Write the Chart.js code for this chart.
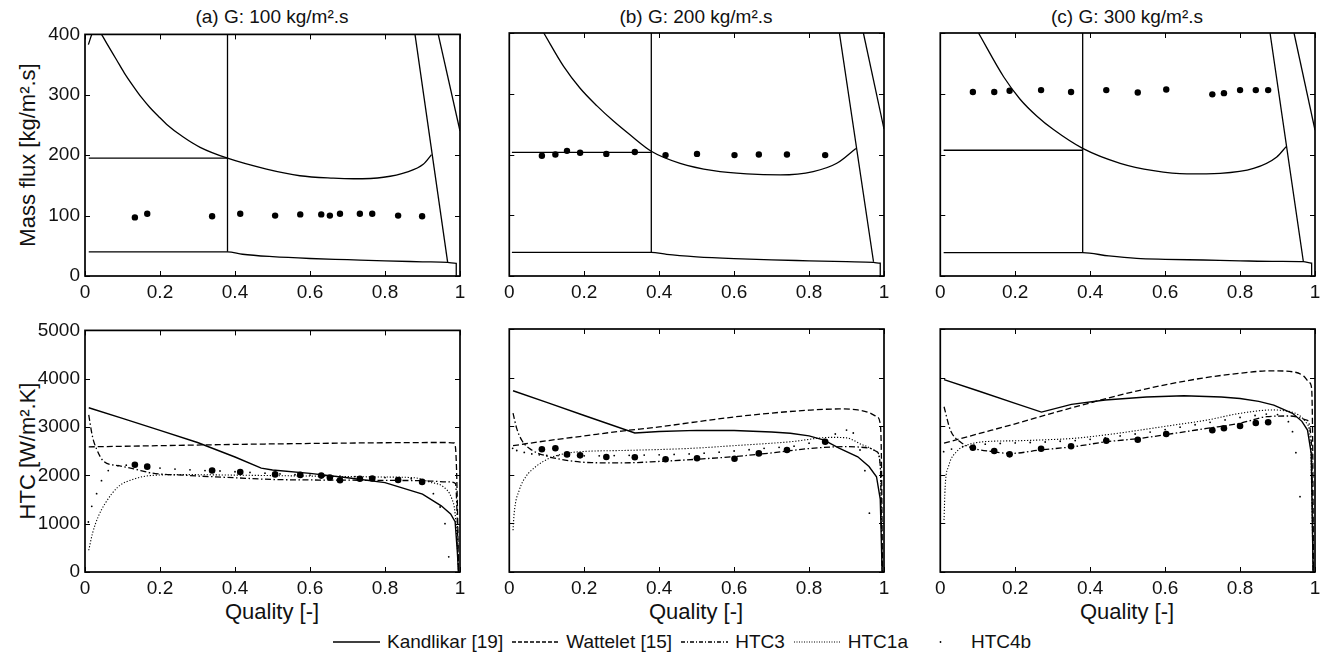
<!DOCTYPE html>
<html>
<head>
<meta charset="utf-8">
<script src="https://cdn.jsdelivr.net/npm/chart.js@4.4.0/dist/chart.umd.min.js"></script>
<style>
  body { margin: 0; background: #fff; width: 1326px; height: 661px; position: relative; overflow: hidden;
         font-family: 'Liberation Sans', Arial, Helvetica, sans-serif; color: #111; }
  .panel { position: absolute; }
  .ttl  { position: absolute; font-size: 19px; line-height: 22px; white-space: nowrap; transform: translate(-50%, -50%); }
  .xlab { position: absolute; font-size: 22px; line-height: 26px; white-space: nowrap; transform: translate(-50%, -50%); }
  .ylab { position: absolute; font-size: 22px; line-height: 26px; white-space: nowrap; transform: translate(-50%, -50%) rotate(-90deg); }
  #legend { position: absolute; left: 333px; top: 630px; display: flex; align-items: center; font-size: 19px; line-height: 24px; white-space: nowrap; }
  .item { display: flex; align-items: center; margin-right: 9px; }
  .item svg { width: 47px; height: 10px; margin-right: 7px; }
</style>
</head>
<body>

<div class="ttl" style="left:272px;top:17px">(a) G: 100 kg/m².s</div>
<div class="ttl" style="left:696px;top:17px">(b) G: 200 kg/m².s</div>
<div class="ttl" style="left:1127px;top:17px">(c) G: 300 kg/m².s</div>

<div class="ylab" style="left:28px;top:155px">Mass flux [kg/m².s]</div>
<div class="ylab" style="left:28px;top:451px">HTC [W/m².K]</div>

<div class="xlab" style="left:272px;top:612px">Quality [-]</div>
<div class="xlab" style="left:696px;top:612px">Quality [-]</div>
<div class="xlab" style="left:1127px;top:612px">Quality [-]</div>

<div id="legend">
  <div class="item"><svg viewBox="0 0 47 10"><line x1="0" y1="5" x2="47" y2="5" stroke="#000" stroke-width="1.4"/></svg>Kandlikar [19]</div>
  <div class="item"><svg viewBox="0 0 47 10"><line x1="0" y1="5" x2="47" y2="5" stroke="#000" stroke-width="1.3" stroke-dasharray="4 2"/></svg>Wattelet [15]</div>
  <div class="item"><svg viewBox="0 0 47 10"><line x1="0" y1="5" x2="47" y2="5" stroke="#000" stroke-width="1.3" stroke-dasharray="4 2 1 2"/></svg>HTC3</div>
  <div class="item"><svg viewBox="0 0 47 10"><line x1="0" y1="5" x2="47" y2="5" stroke="#000" stroke-width="1.1" stroke-dasharray="1 1.5"/></svg>HTC1a</div>
  <div class="item"><svg viewBox="0 0 47 10"><circle cx="23.5" cy="5" r="0.9" fill="#000"/></svg>HTC4b</div>
</div>

<canvas id="mapA" class="panel"></canvas>
<canvas id="mapB" class="panel"></canvas>
<canvas id="mapC" class="panel"></canvas>
<canvas id="htcA" class="panel"></canvas>
<canvas id="htcB" class="panel"></canvas>
<canvas id="htcC" class="panel"></canvas>

<script>
// ── Ticks ─────────────────────────────────────────────────────────────────────
const qualityTicks  = [0, 0.2, 0.4, 0.6, 0.8, 1];
const qualityLabels = ['0', '0.2', '0.4', '0.6', '0.8', '1'];
const fluxTicks     = [0, 100, 200, 300, 400];
const fluxLabels    = ['0', '100', '200', '300', '400'];
const htcTicks      = [0, 1000, 2000, 3000, 4000, 5000];
const htcLabels     = ['0', '1000', '2000', '3000', '4000', '5000'];

// ── Experimental points ───────────────────────────────────────────────────────
const expXA   = [0.133, 0.166, 0.339, 0.414, 0.507, 0.574, 0.630, 0.653, 0.680, 0.733, 0.766, 0.835, 0.899];
const expGA   = [97, 103, 99, 103, 100, 102, 102, 100, 103, 103, 103, 100, 99];
const expHtcA = [2220, 2180, 2100, 2070, 2020, 2010, 1995, 1955, 1900, 1930, 1935, 1905, 1865];

const expXB   = [0.087, 0.123, 0.154, 0.189, 0.259, 0.335, 0.417, 0.501, 0.601, 0.666, 0.741, 0.843];
const expGB   = [198, 200, 206, 203, 201, 204, 199, 201, 199, 200, 200, 199];
const expHtcB = [2525, 2545, 2420, 2400, 2365, 2360, 2320, 2340, 2330, 2440, 2510, 2680];

const expXC   = [0.087, 0.144, 0.185, 0.269, 0.349, 0.443, 0.527, 0.603, 0.726, 0.757, 0.800, 0.842, 0.875];
const expGC   = [303, 303, 305, 306, 303, 306, 302, 307, 299, 301, 306, 306, 306];
const expHtcC = [2558, 2490, 2421, 2537, 2586, 2702, 2722, 2840, 2916, 2957, 3004, 3066, 3080];

// ── Flow pattern map lines [quality, mass flux] ──────────────────────────────
const wavyA   = [[0.009,383],[0.018,400],[0.03,412],[0.044,400],[0.06,383],[0.084,358],[0.105,336],[0.129,314],[0.15,296],[0.173,279],[0.195,265],[0.218,251],[0.262,230],[0.307,213],[0.38,195],[0.484,177],[0.573,166],[0.662,162],[0.716,161],[0.796,163.5],[0.858,172],[0.902,185],[0.924,201]];
const dryA    = [[0.88,400],[0.967,23]];
const mistA   = [[0.942,400],[1.0,240]];
const stratA  = [[0.01,40],[0.38,40],[0.42,36],[0.5,32],[0.6,29],[0.7,27],[0.8,25],[0.9,23.5],[0.967,22.5],[0.99,21],[0.99,0]];
const slugA   = [[0.01,195],[0.38,195]];
const vertA   = [[0.38,40],[0.38,400]];

const wavyB   = [[0.092,400],[0.145,345],[0.189,309],[0.234,280],[0.278,255],[0.323,232],[0.38,205],[0.456,185.5],[0.545,173.4],[0.634,168],[0.723,166.3],[0.811,171.8],[0.874,185.5],[0.925,210]];
const dryB    = [[0.881,400],[0.972,23.5]];
const mistB   = [[0.945,400],[1.0,242]];
const stratB  = [[0.007,39],[0.379,39],[0.42,35.5],[0.5,31.5],[0.6,28.5],[0.7,26.5],[0.8,25],[0.9,23.5],[0.972,22.5],[0.99,21],[0.99,0]];
const slugB   = [[0.007,203.6],[0.379,203.6]];
const vertB   = [[0.379,39],[0.379,400]];

const wavyC   = [[0.102,400],[0.169,328],[0.213,291],[0.258,263],[0.302,241],[0.38,210],[0.48,185.5],[0.569,173.4],[0.658,168],[0.747,169],[0.836,177],[0.898,196],[0.923,213]];
const dryC    = [[0.88,400],[0.969,23.5]];
const mistC   = [[0.944,400],[1.0,240]];
const stratC  = [[0.009,38.4],[0.38,38.4],[0.45,33],[0.524,29],[0.6,27.5],[0.702,26.3],[0.8,25],[0.9,24],[0.969,23.5],[0.991,21],[0.991,0]];
const slugC   = [[0.009,207],[0.38,207]];
const vertC   = [[0.38,38.4],[0.38,400]];

// ── HTC model curves [quality, W/m².K] ───────────────────────────────────────
const kandA  = [[0.01,3400],[0.1,3180],[0.2,2930],[0.3,2680],[0.4,2380],[0.47,2150],[0.5,2110],[0.6,2040],[0.7,1950],[0.8,1850],[0.9,1610],[0.95,1370],[0.975,1200],[0.987,1040],[0.993,400],[0.996,0]];
const wattA  = [[0.01,2590],[0.2,2615],[0.4,2640],[0.6,2660],[0.8,2675],[0.95,2680],[0.985,2670],[0.99,2300],[0.994,1000],[0.996,0]];
const htc3A  = [[0.01,3250],[0.02,2800],[0.03,2560],[0.05,2290],[0.09,2200],[0.13,2135],[0.18,2045],[0.27,2000],[0.4,1950],[0.5,1915],[0.6,1905],[0.7,1900],[0.8,1895],[0.9,1890],[0.97,1865],[0.988,1830],[0.993,1000],[0.996,0]];
const htc1aA = [[0.01,450],[0.02,800],[0.035,1140],[0.053,1410],[0.088,1760],[0.133,1930],[0.18,2000],[0.27,2015],[0.4,2005],[0.5,1995],[0.6,1985],[0.7,1975],[0.8,1965],[0.88,1950],[0.92,1860],[0.956,1760],[0.978,1520],[0.987,1210],[0.993,500],[0.996,0]];
const htc4bA = [[0.009,1035],[0.018,1360],[0.031,1620],[0.044,1890],[0.062,2100],[0.088,2200],[0.11,2210],[0.13,2200],[0.16,2175],[0.2,2150],[0.24,2130],[0.28,2115],[0.32,2100],[0.36,2090],[0.4,2075],[0.44,2060],[0.48,2045],[0.52,2030],[0.56,2015],[0.6,2005],[0.64,1995],[0.68,1985],[0.72,1975],[0.76,1965],[0.8,1955],[0.84,1945],[0.87,1930],[0.9,1830],[0.929,1620],[0.947,1345],[0.96,1000],[0.97,315]];

const kandB  = [[0.01,3730],[0.1,3490],[0.2,3220],[0.335,2860],[0.4,2890],[0.5,2915],[0.6,2910],[0.7,2880],[0.75,2855],[0.8,2800],[0.84,2715],[0.88,2550],[0.93,2370],[0.96,2170],[0.98,1960],[0.99,1500],[0.995,0]];
const wattB  = [[0.01,2600],[0.1,2700],[0.2,2800],[0.3,2900],[0.4,2985],[0.5,3090],[0.6,3190],[0.7,3270],[0.8,3330],[0.88,3355],[0.93,3335],[0.96,3280],[0.98,3200],[0.99,3050],[0.993,2400],[0.996,0]];
const htc3B  = [[0.01,3270],[0.02,2950],[0.035,2690],[0.06,2510],[0.1,2385],[0.16,2290],[0.22,2250],[0.3,2245],[0.4,2275],[0.5,2320],[0.6,2375],[0.7,2450],[0.8,2540],[0.9,2580],[0.96,2550],[0.98,2480],[0.99,2200],[0.995,0]];
const htc1aB = [[0.01,860],[0.013,1210],[0.027,1690],[0.044,1960],[0.071,2170],[0.107,2340],[0.15,2440],[0.2,2480],[0.3,2500],[0.4,2520],[0.5,2550],[0.6,2600],[0.7,2650],[0.75,2680],[0.86,2770],[0.9,2760],[0.945,2610],[0.98,2480],[0.99,2200],[0.995,0]];
const htc4bB = [[0.009,2545],[0.02,2500],[0.04,2460],[0.06,2430],[0.08,2410],[0.1,2400],[0.13,2395],[0.16,2390],[0.2,2390],[0.24,2390],[0.28,2395],[0.32,2400],[0.36,2405],[0.4,2410],[0.44,2420],[0.48,2430],[0.52,2445],[0.56,2465],[0.6,2490],[0.64,2515],[0.68,2545],[0.72,2565],[0.76,2590],[0.8,2650],[0.84,2730],[0.87,2840],[0.9,2920],[0.918,2860],[0.936,2510],[0.949,2085],[0.961,1210]];

const kandC  = [[0.01,3960],[0.1,3730],[0.2,3470],[0.27,3290],[0.35,3450],[0.44,3540],[0.55,3600],[0.65,3625],[0.75,3600],[0.8,3570],[0.85,3510],[0.89,3435],[0.94,3265],[0.965,3100],[0.98,2920],[0.99,2440],[0.995,0]];
const wattC  = [[0.01,2650],[0.1,2840],[0.2,3050],[0.3,3270],[0.4,3480],[0.5,3680],[0.6,3850],[0.7,3990],[0.8,4090],[0.88,4140],[0.94,4120],[0.97,4030],[0.985,3900],[0.991,3780],[0.994,2500],[0.996,0]];
const htc3C  = [[0.01,3400],[0.027,2920],[0.053,2680],[0.089,2545],[0.142,2475],[0.187,2440],[0.267,2510],[0.356,2580],[0.444,2680],[0.533,2750],[0.622,2850],[0.711,2955],[0.8,3060],[0.871,3195],[0.933,3210],[0.978,3125],[0.991,2580],[0.995,0]];
const htc1aC = [[0.01,1070],[0.013,1750],[0.022,2170],[0.044,2480],[0.071,2610],[0.116,2680],[0.2,2700],[0.28,2720],[0.356,2750],[0.45,2830],[0.533,2920],[0.62,3020],[0.711,3125],[0.8,3265],[0.889,3335],[0.933,3300],[0.978,3060],[0.988,2580],[0.995,0]];
const htc4bC = [[0.009,2476],[0.03,2530],[0.06,2580],[0.09,2610],[0.12,2630],[0.16,2645],[0.2,2655],[0.24,2665],[0.28,2675],[0.32,2690],[0.36,2705],[0.4,2730],[0.44,2760],[0.48,2800],[0.52,2840],[0.56,2880],[0.6,2930],[0.64,2980],[0.68,3030],[0.72,3080],[0.76,3130],[0.8,3180],[0.84,3220],[0.87,3250],[0.9,3240],[0.929,3093],[0.94,2887],[0.949,2455],[0.96,1550]];

// ── Helpers ───────────────────────────────────────────────────────────────────
Chart.defaults.font.family = "'Liberation Sans', Arial, Helvetica, sans-serif";
Chart.defaults.font.size = 19;
Chart.defaults.color = '#111';

const pts = arr => arr.map(([x, y]) => ({ x, y }));
const zip = (xs, ys) => xs.map((x, i) => ({ x, y: ys[i] }));

const line = (arr, dash = [], smooth = false, width = 1.3) => ({
  data: pts(arr), showLine: true, borderColor: '#000', borderWidth: width,
  borderDash: dash, pointRadius: 0,
  cubicInterpolationMode: smooth ? 'monotone' : 'default', tension: 0,
});
const dots = (data, r) => ({
  data, showLine: false, pointRadius: r, pointBackgroundColor: '#000',
  pointBorderColor: '#000', pointBorderWidth: 0,
});

// MATLAB-style box with inward ticks on all four sides
const boxTicks = {
  id: 'boxTicks',
  afterDraw(chart) {
    const { ctx, chartArea: a, scales: { x, y } } = chart;
    ctx.save();
    ctx.strokeStyle = '#000';
    ctx.lineWidth = 1;
    ctx.beginPath();
    x.ticks.forEach(t => {
      const px = Math.round(x.getPixelForValue(t.value)) + 0.5;
      ctx.moveTo(px, a.bottom); ctx.lineTo(px, a.bottom - 5);
      ctx.moveTo(px, a.top);    ctx.lineTo(px, a.top + 5);
    });
    y.ticks.forEach(t => {
      const py = Math.round(y.getPixelForValue(t.value)) + 0.5;
      ctx.moveTo(a.left, py);  ctx.lineTo(a.left + 5, py);
      ctx.moveTo(a.right, py); ctx.lineTo(a.right - 5, py);
    });
    ctx.stroke();
    ctx.lineWidth = 1.7;
    ctx.strokeRect(a.left, a.top, a.right - a.left, a.bottom - a.top);
    ctx.restore();
  },
};

const COL_LEFT = [85, 509, 940];
const ROW_TOP  = [33, 329];
const AREA_W = 375, AREA_H = 243, PAD_T = 15, PAD_R = 15, X_H = 35;

function panel(id, col, row, datasets, yTicks, yLabels, yMax) {
  const yW = col === 0 ? 60 : 10;
  const cv = document.getElementById(id);
  cv.width  = yW + AREA_W + PAD_R;
  cv.height = PAD_T + AREA_H + X_H;
  cv.style.left = (COL_LEFT[col] - yW) + 'px';
  cv.style.top  = (ROW_TOP[row] - PAD_T) + 'px';

  new Chart(cv, {
    type: 'scatter',
    data: { datasets },
    plugins: [boxTicks],
    options: {
      responsive: false,
      animation: false,
      events: [],
      layout: { padding: { top: PAD_T, right: PAD_R, left: 0, bottom: 0 } },
      plugins: { legend: { display: false }, tooltip: { enabled: false } },
      scales: {
        x: {
          type: 'linear', min: 0, max: 1,
          grid: { display: false, drawTicks: false }, border: { display: false },
          afterBuildTicks: s => { s.ticks = qualityTicks.map(v => ({ value: v })); },
          ticks: { padding: 5, maxRotation: 0, autoSkip: false, callback: (v, i) => qualityLabels[i] },
          afterFit: s => { s.height = X_H; },
        },
        y: {
          type: 'linear', min: 0, max: yMax,
          grid: { display: false, drawTicks: false }, border: { display: false },
          afterBuildTicks: s => { s.ticks = yTicks.map(v => ({ value: v })); },
          ticks: { display: col === 0, padding: 5, autoSkip: false, callback: (v, i) => yLabels[i] },
          afterFit: s => { s.width = yW; },
        },
      },
    },
  });
}

function mapSets(wavy, dry, mist, strat, slug, vert, xs, gs) {
  return [
    line(wavy, [], true), line(dry), line(mist), line(strat, [], true),
    line(slug), line(vert), dots(zip(xs, gs), 3.2),
  ];
}

function htcSets(kand, watt, h3, h1a, h4b, xs, hs) {
  return [
    line(kand, [], false, 1.4),
    line(watt, [6, 3], true),
    line(h3, [6, 2.5, 1.5, 2.5], true),
    line(h1a, [1.2, 1.8], true, 1.1),
    dots(pts(h4b), 0.9),
    dots(zip(xs, hs), 3.3),
  ];
}

// ── Panels ────────────────────────────────────────────────────────────────────
panel('mapA', 0, 0, mapSets(wavyA, dryA, mistA, stratA, slugA, vertA, expXA, expGA), fluxTicks, fluxLabels, 400);
panel('mapB', 1, 0, mapSets(wavyB, dryB, mistB, stratB, slugB, vertB, expXB, expGB), fluxTicks, fluxLabels, 400);
panel('mapC', 2, 0, mapSets(wavyC, dryC, mistC, stratC, slugC, vertC, expXC, expGC), fluxTicks, fluxLabels, 400);

panel('htcA', 0, 1, htcSets(kandA, wattA, htc3A, htc1aA, htc4bA, expXA, expHtcA), htcTicks, htcLabels, 5000);
panel('htcB', 1, 1, htcSets(kandB, wattB, htc3B, htc1aB, htc4bB, expXB, expHtcB), htcTicks, htcLabels, 5000);
panel('htcC', 2, 1, htcSets(kandC, wattC, htc3C, htc1aC, htc4bC, expXC, expHtcC), htcTicks, htcLabels, 5000);
</script>
</body>
</html>
